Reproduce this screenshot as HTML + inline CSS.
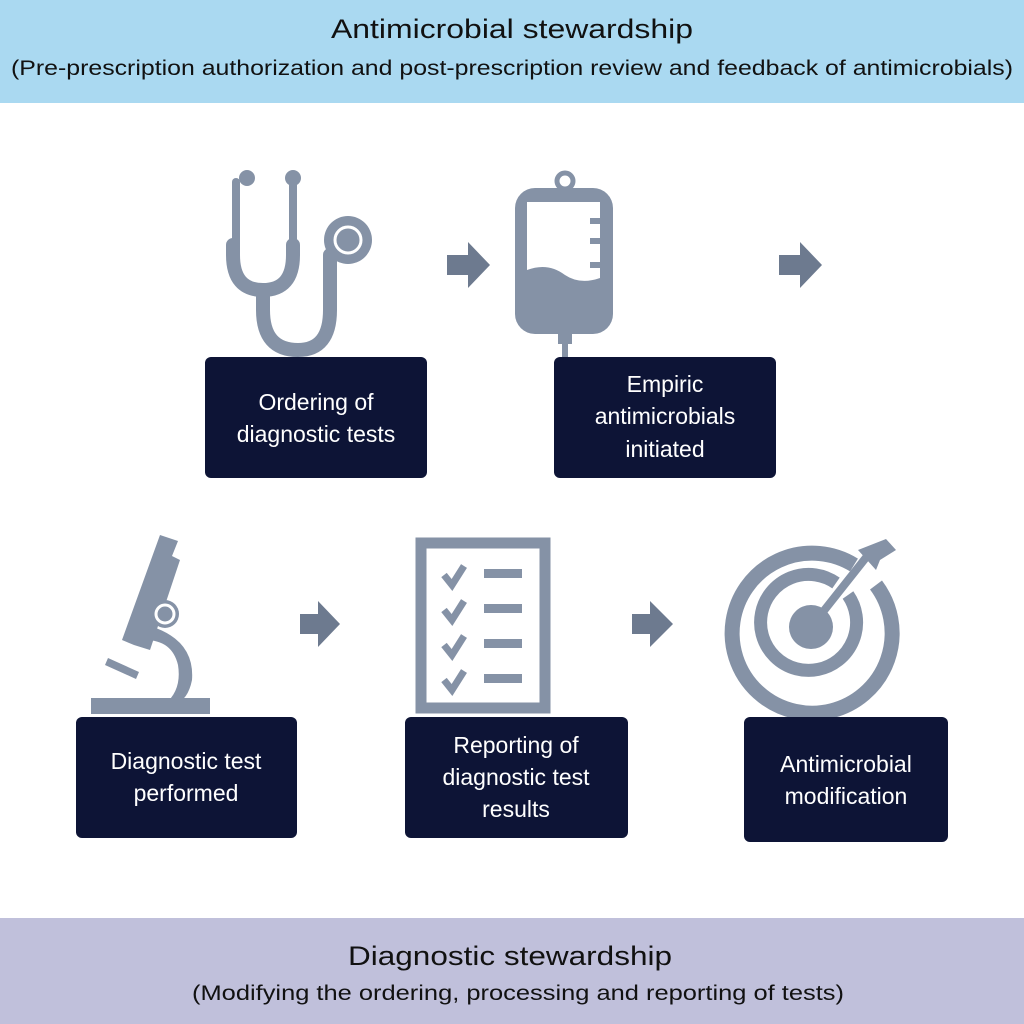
<!DOCTYPE html>
<html><head><meta charset="utf-8"><style>
html,body{margin:0;padding:0;background:#fff}
svg{display:block}
text{font-family:"Liberation Sans",sans-serif}
</style></head><body>
<svg width="1024" height="1024" viewBox="0 0 1024 1024" xmlns="http://www.w3.org/2000/svg">
<rect x="0" y="0" width="1024" height="103" fill="#aad9f1"/>
<text x="512" y="38" font-size="27" text-anchor="middle" fill="#111" textLength="362" lengthAdjust="spacingAndGlyphs">Antimicrobial stewardship</text>
<text x="512" y="75" font-size="21" text-anchor="middle" fill="#111" textLength="1002" lengthAdjust="spacingAndGlyphs">(Pre-prescription authorization and post-prescription review and feedback of antimicrobials)</text>

<rect x="0" y="918" width="1024" height="106" fill="#c0c0db"/>
<text x="510" y="965" font-size="27" text-anchor="middle" fill="#111" textLength="324" lengthAdjust="spacingAndGlyphs">Diagnostic stewardship</text>
<text x="518" y="1000" font-size="21" text-anchor="middle" fill="#111" textLength="652" lengthAdjust="spacingAndGlyphs">(Modifying the ordering, processing and reporting of tests)</text>

<g fill="#8592a6" stroke="none">
<!-- stethoscope -->
<circle cx="247" cy="178" r="8"/><circle cx="293" cy="178" r="8"/>
</g>
<g fill="none" stroke="#8592a6" stroke-linecap="round">
<path d="M236 182 L236 245" stroke-width="8"/>
<path d="M293 182 L293 245" stroke-width="8"/>
<path d="M233 245 L233 255 Q233 290 263 290 Q293 290 293 255 L293 245" stroke-width="14"/>
<path d="M263 290 L263 310 Q263 350 298 350 Q330 350 330 310 L330 255" stroke-width="14"/>
</g>
<circle cx="348" cy="240" r="24" fill="#8592a6"/>
<circle cx="348" cy="240" r="13" fill="none" stroke="#fff" stroke-width="3"/>

<!-- IV bag -->
<circle cx="565" cy="181" r="8" fill="none" stroke="#8592a6" stroke-width="5"/>
<rect x="515" y="188" width="98" height="146" rx="20" fill="#8592a6"/>
<path d="M527 202 L600 202 L600 278 Q580 285 565 275 Q548 262 527 270 Z" fill="#fff"/>
<rect x="590" y="218" width="12" height="6" fill="#8592a6"/>
<rect x="590" y="238" width="12" height="6" fill="#8592a6"/>
<rect x="590" y="262" width="12" height="6" fill="#8592a6"/>
<rect x="558" y="330" width="14" height="14" fill="#8592a6"/>
<rect x="562" y="340" width="6" height="18" fill="#8592a6"/>

<!-- arrows -->
<g fill="#6d7a8f">
<path d="M447 255 L468 255 L468 242 L490 265 L468 288 L468 275 L447 275 Z"/>
<path d="M779 255 L800 255 L800 242 L822 265 L800 288 L800 275 L779 275 Z"/>
<path d="M300 614 L318 614 L318 601 L340 624 L318 647 L318 634 L300 634 Z"/>
<path d="M632 614 L650 614 L650 601 L673 624 L650 647 L650 634 L632 634 Z"/>
</g>

<!-- microscope -->
<g fill="#8592a6">
<path d="M160 535 L178 541 L172 556 L180 560 L150 650 L134 645 L122 640 Z"/>
<circle cx="165" cy="614" r="14"/>
<path d="M150 626 Q195 640 192 680 Q188 700 175 704 L165 704 Q182 690 178 665 Q172 640 145 640 Z"/>
<rect x="91" y="698" width="119" height="16"/>
<path d="M108 658 L139 672 L136 679 L105 665 Z"/>
</g>
<circle cx="165" cy="614" r="9" fill="none" stroke="#fff" stroke-width="3"/>

<!-- checklist -->
<rect x="421" y="543" width="124" height="165" fill="none" stroke="#8592a6" stroke-width="11"/>
<g fill="none" stroke="#8592a6" stroke-width="7">
<path d="M444 575 L452 585 L464 566"/><path d="M444 610 L452 620 L464 601"/>
<path d="M444 645 L452 655 L464 636"/><path d="M444 680 L452 690 L464 671"/>
</g>
<g fill="#8592a6">
<rect x="484" y="569" width="38" height="9"/><rect x="484" y="604" width="38" height="9"/>
<rect x="484" y="639" width="38" height="9"/><rect x="484" y="674" width="38" height="9"/>
</g>

<!-- target -->
<g fill="none" stroke="#8592a6">
<path d="M858 565 A80 80 0 1 0 880 585" stroke-width="15" transform="translate(-4,0)"/>
<path d="M836 583 A48 48 0 1 0 848 595" stroke-width="13"/>
</g>
<circle cx="811" cy="627" r="22" fill="#8592a6"/>
<path d="M811 627 L868 555" stroke="#8592a6" stroke-width="8"/>
<path d="M858 550 L886 539 L896 550 L880 560 L876 570 Z" fill="#8592a6"/>

<!-- boxes -->
<g fill="#0d1436">
<rect x="205" y="357" width="222" height="121" rx="6"/>
<rect x="554" y="357" width="222" height="121" rx="6"/>
<rect x="76" y="717" width="221" height="121" rx="6"/>
<rect x="405" y="717" width="223" height="121" rx="6"/>
<rect x="744" y="717" width="204" height="125" rx="6"/>
</g>
<g fill="#fff" font-size="23" text-anchor="middle">
<text x="316" y="410">Ordering of</text>
<text x="316" y="442">diagnostic tests</text>
<text x="665" y="392">Empiric</text>
<text x="665" y="424">antimicrobials</text>
<text x="665" y="457">initiated</text>
<text x="186" y="769">Diagnostic test</text>
<text x="186" y="801">performed</text>
<text x="516" y="753">Reporting of</text>
<text x="516" y="785">diagnostic test</text>
<text x="516" y="817">results</text>
<text x="846" y="772">Antimicrobial</text>
<text x="846" y="804">modification</text>
</g>
</svg>
</body></html>
